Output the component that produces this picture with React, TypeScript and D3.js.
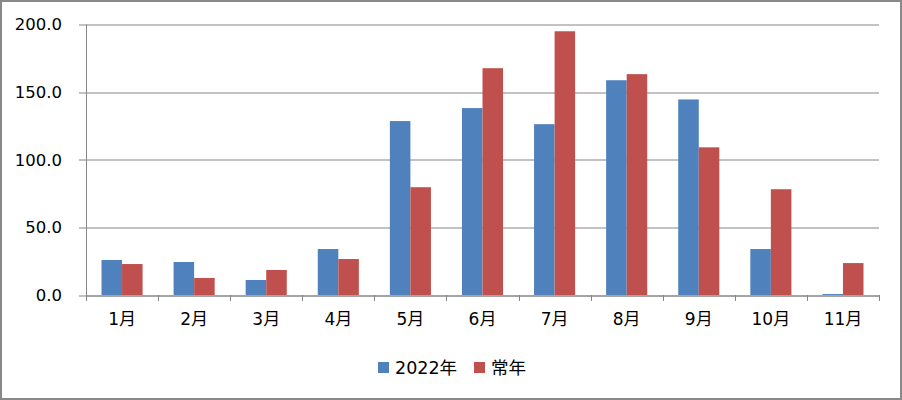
import { useEffect, useRef } from 'react';
import * as d3 from 'd3';

const months = ['1月', '2月', '3月', '4月', '5月', '6月', '7月', '8月', '9月', '10月', '11月'];
const values2022 = [25.9, 24.4, 11.1, 34.0, 128.6, 138.2, 126.3, 158.8, 144.6, 34.0, 0.7];
const valuesNormal = [22.9, 12.6, 18.5, 26.6, 79.7, 167.7, 195.0, 163.3, 109.2, 78.2, 23.6];
const yTicks = [0, 50, 100, 150, 200];
const seriesNames = ['2022年', '常年'];
const colors = ['#4F81BD', '#C0504D'];

const width = 902;
const height = 400;
const margin = { left: 86, right: 23, top: 24.5, bottom: 105 };
const font = '"DejaVu Sans", "Noto Sans CJK SC", sans-serif';

function App() {
  const svgRef = useRef<SVGSVGElement>(null);

  useEffect(() => {
    if (svgRef.current === null) return;
    const svg = d3.select(svgRef.current);
    svg.selectAll('*').remove();

    const graphWidth = width - margin.left - margin.right;
    const graphHeight = height - margin.top - margin.bottom;

    const x = d3.scaleBand().domain(months).range([0, graphWidth]).paddingInner(0).paddingOuter(0);
    const inner = d3
      .scaleBand()
      .domain(seriesNames)
      .range([x.bandwidth() * 0.215, x.bandwidth() * 0.785]);
    const y = d3.scaleLinear().domain([0, 200]).range([graphHeight, 0]);

    // outer frame
    svg
      .append('rect')
      .attr('x', 1)
      .attr('y', 1)
      .attr('width', width - 2)
      .attr('height', height - 2)
      .attr('fill', 'white')
      .attr('stroke', '#898989')
      .attr('stroke-width', 2);

    const body = svg.append('g').attr('transform', `translate(${margin.left}, ${margin.top})`);

    // gridlines + y labels
    yTicks.forEach((t) => {
      body
        .append('line')
        .attr('x1', -7)
        .attr('x2', graphWidth)
        .attr('y1', Math.round(y(t)) + 0.5)
        .attr('y2', Math.round(y(t)) + 0.5)
        .attr('stroke', '#868686')
        .attr('stroke-width', 1);
      body
        .append('text')
        .attr('x', -24)
        .attr('y', y(t))
        .attr('dy', '0.35em')
        .attr('text-anchor', 'end')
        .attr('font-family', font)
        .attr('font-size', 16.5)
        .attr('fill', '#000')
        .text(t.toFixed(1));
    });

    // bars
    const series = [values2022, valuesNormal];
    series.forEach((vals, si) => {
      body
        .append('g')
        .selectAll('rect')
        .data(vals)
        .enter()
        .append('rect')
        .attr('x', (_d: number, i: number) => (x(months[i]) || 0) + (inner(seriesNames[si]) || 0))
        .attr('y', (d: number) => y(d))
        .attr('width', inner.bandwidth())
        .attr('height', (d: number) => graphHeight - y(d))
        .attr('fill', colors[si]);
    });

    // y axis line
    body
      .append('line')
      .attr('x1', 0.5)
      .attr('x2', 0.5)
      .attr('y1', 0)
      .attr('y2', graphHeight)
      .attr('stroke', '#868686');

    // x axis line + ticks
    body
      .append('line')
      .attr('x1', 0)
      .attr('x2', graphWidth)
      .attr('y1', Math.round(graphHeight) + 0.5)
      .attr('y2', Math.round(graphHeight) + 0.5)
      .attr('stroke', '#868686');
    const ticks = months.map((m) => x(m) || 0).concat([graphWidth]);
    ticks.forEach((tx) => {
      body
        .append('line')
        .attr('x1', Math.round(tx) + 0.5)
        .attr('x2', Math.round(tx) + 0.5)
        .attr('y1', graphHeight)
        .attr('y2', graphHeight + 6)
        .attr('stroke', '#868686');
    });

    // x labels
    body
      .append('g')
      .selectAll('text')
      .data(months)
      .enter()
      .append('text')
      .attr('x', (d: string) => (x(d) || 0) + x.bandwidth() / 2)
      .attr('y', graphHeight + 30)
      .attr('text-anchor', 'middle')
      .attr('font-family', font)
      .attr('font-size', 17)
      .attr('fill', '#000')
      .text((d: string) => d);

    // legend
    const legendX = [378, 474];
    seriesNames.forEach((name, i) => {
      svg
        .append('rect')
        .attr('x', legendX[i])
        .attr('y', 362)
        .attr('width', 11)
        .attr('height', 11)
        .attr('fill', colors[i]);
      svg
        .append('text')
        .attr('x', legendX[i] + 17)
        .attr('y', 374)
        .attr('font-family', font)
        .attr('font-size', 17.5)
        .attr('fill', '#000')
        .text(name);
    });
  }, []);

  return (
    <svg
      ref={svgRef}
      width={width}
      height={height}
      style={{ position: 'absolute', left: 0, top: 0, display: 'block' }}
    />
  );
}

export default App;
